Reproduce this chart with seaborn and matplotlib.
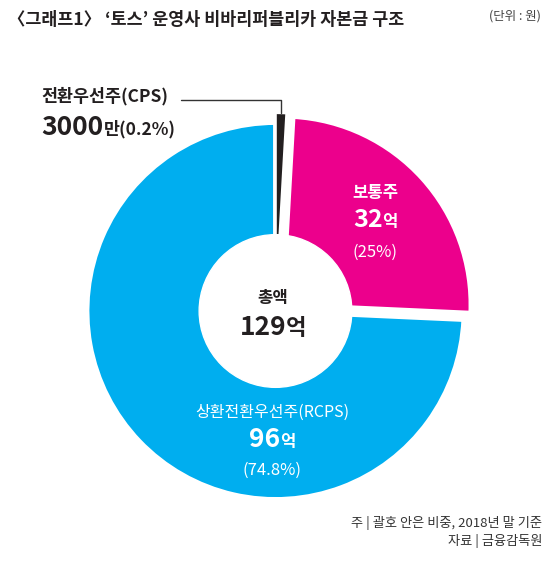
import matplotlib
matplotlib.use("Agg")
import matplotlib.pyplot as plt
from matplotlib.offsetbox import TextArea, HPacker, AnnotationBbox
from matplotlib.patches import Circle
import seaborn as sns
import numpy as np

sns.set_theme(style="white")
plt.rcParams['font.family'] = ['Noto Sans CJK KR', 'DejaVu Sans']

# data (단위 : 원)
categories = ["전환우선주(CPS)", "보통주", "상환전환우선주(RCPS)"]
amounts = ["3000", "32", "96"]
amount_units = ["만", "억", "억"]
shares = [0.2, 25.0, 74.8]          # %
share_labels = ["(0.2%)", "(25%)", "(74.8%)"]
total_label = ["129", "억"]

colors = sns.color_palette(["#231F20", "#EC008C", "#00AEEF"])
dark = "#231F20"

fig = plt.figure(figsize=(5.5, 5.63), dpi=100)
ax = fig.add_axes([0, 0, 1, 1])

# tiny slice would vanish, keep a minimum visible width
disp = np.maximum(np.array(shares), 0.9)
wedges, _ = ax.pie(disp, colors=colors, startangle=90, counterclock=False,
                   explode=[0.05, 0.05, 0], radius=1,
                   wedgeprops=dict(edgecolor="white", linewidth=3.5))
wedges[0].set_zorder(3)
wedges[0].set_linewidth(1.5)
ax.add_patch(Circle((0, 0), 0.405, color="white", zorder=4))

ax.set_xlim(-1.4615, 1.4562)
ax.set_ylim(-1.3369, 1.6499)
ax.set_aspect('auto')
ax.axis('off')


def rich(parts, xy, coords="data", align=(0.5, 0.5)):
    boxes = [TextArea(t, textprops=dict(fontsize=s, fontweight=w, color=c))
             for t, s, w, c in parts]
    pack = HPacker(children=boxes, align="baseline", pad=0, sep=0)
    ab = AnnotationBbox(pack, xy, xycoords=coords, box_alignment=align,
                        frameon=False, pad=0, zorder=6)
    ax.add_artist(ab)


# 보통주
ax.text(0.53, 0.626, categories[1], ha="center", va="center", fontsize=12,
        fontweight="bold", color="white", zorder=6)
rich([(amounts[1], 18, "bold", "white"), (amount_units[1], 12, "bold", "white")], (0.53, 0.483))
ax.text(0.53, 0.313, share_labels[1], ha="center", va="center", fontsize=12,
        color="white", zorder=6)

# 상환전환우선주
ax.text(-0.019, -0.536, categories[2], ha="center", va="center", fontsize=11.5,
        color="white", zorder=6)
rich([(amounts[2], 19, "bold", "white"), (amount_units[2], 12, "bold", "white")], (-0.019, -0.684))
ax.text(-0.019, -0.843, share_labels[2], ha="center", va="center", fontsize=12,
        color="white", zorder=6)

# 총액
ax.text(-0.013, 0.069, "총액", ha="center", va="center", fontsize=12,
        fontweight="bold", color=dark, zorder=6)
rich([(total_label[0], 19, "bold", dark), (total_label[1], 16, "bold", dark)], (-0.013, -0.09))

# 전환우선주 label with leader line
ax.text(-1.24, 1.14, categories[0], ha="left", va="center", fontsize=12.5,
        fontweight="bold", color=dark)
rich([(amounts[0], 19, "bold", dark), (amount_units[0] + share_labels[0], 12.5, "bold", dark)],
     (-1.24, 0.975), align=(0, 0.5))
w = wedges[0]
mid = np.deg2rad((w.theta1 + w.theta2) / 2)
tip_x = w.center[0] + w.r * np.cos(mid)
tip_y = w.center[1] + w.r * np.sin(mid)
ax.plot([-0.50, tip_x, tip_x], [1.12, 1.12, tip_y], color="#333333", lw=1, zorder=6)

# title and notes
fig.text(8 / 550, 1 - 20 / 563, "〈그래프1〉 ‘토스’ 운영사 비바리퍼블리카 자본금 구조",
         ha="left", va="center", fontsize=12.5, fontweight="bold", color=dark)
fig.text(541 / 550, 1 - 16 / 563, "(단위 : 원)", ha="right", va="center",
         fontsize=9, color="#444444")
fig.text(542 / 550, 1 - 523 / 563, "주 | 괄호 안은 비중, 2018년 말 기준", ha="right",
         va="center", fontsize=9.5, color="#333333")
fig.text(542 / 550, 1 - 541 / 563, "자료 | 금융감독원", ha="right",
         va="center", fontsize=9.5, color="#333333")

plt.savefig("out.png", dpi=100, facecolor="white")
